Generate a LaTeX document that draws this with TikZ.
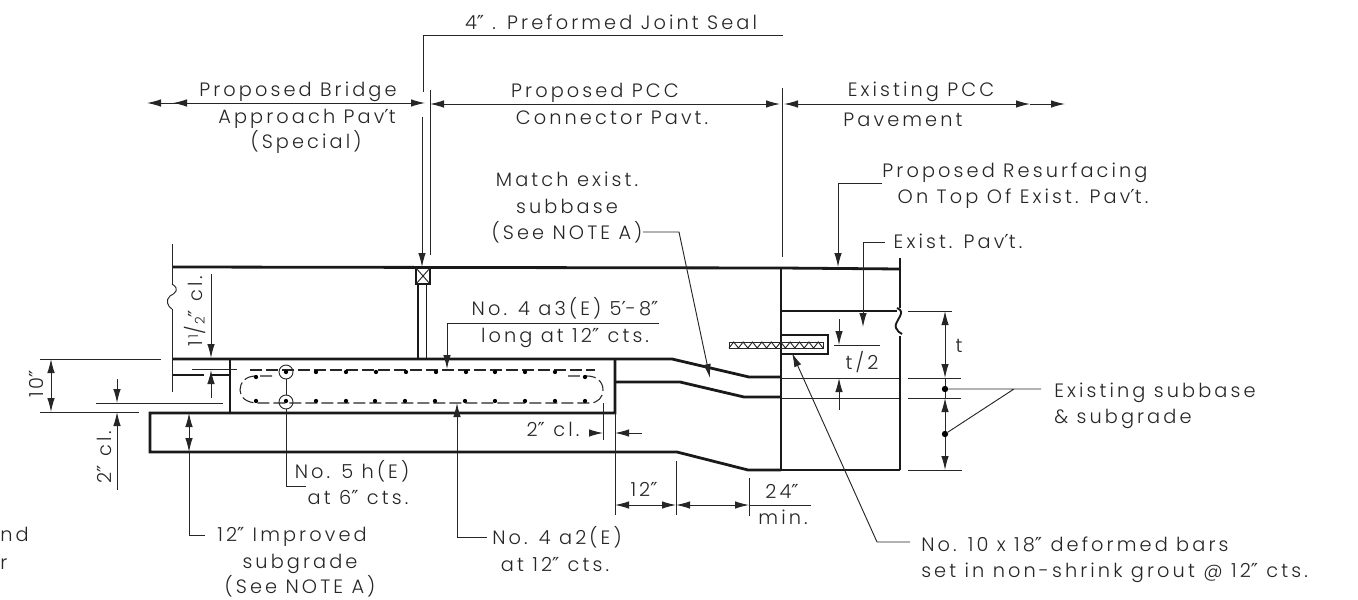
\documentclass[tikz,border=0pt]{standalone}
\usepackage{fontspec}
\setmainfont{Poppins}[UprightFont=* Light,LetterSpace=16]
\newfontfamily\symf{DejaVu Sans}
\usetikzlibrary{arrows.meta}
\newcommand\dq{{\symf ″}}
\newcommand\sq{{\symf ′}}
\tikzset{
  x=0.75pt,y=-0.75pt,
  lbl/.style={inner sep=0pt,anchor=base,font=\fontsize{14.5}{16}\selectfont,text=black!85},
  rlbl/.style={lbl,rotate=90},
  heavy/.style={line width=2.1pt,black!90,line join=miter},
  med/.style={line width=1.4pt,black!90},
  thin/.style={line width=0.7pt,black!85},
  ar/.style={thin,-{Latex[length=10.5pt,width=5.6pt]}},
  ra/.style={thin,{Latex[length=10.5pt,width=5.6pt]}-},
  rar/.style={thin,{Latex[length=10.5pt,width=5.6pt]}-{Latex[length=10.5pt,width=5.6pt]}},
  dotb/.style={circle,fill=black,inner sep=0pt,minimum size=3.2pt},
  jointdot/.style={circle,fill=black,inner sep=0pt,minimum size=4.8pt},
  rebarc/.style={circle,draw=black!85,line width=0.7pt,inner sep=0pt,minimum size=10.5pt},
  dsh/.style={line width=0.8pt,black!85,dash pattern=on 9pt off 3pt},
}
\begin{document}
\begin{tikzpicture}
\useasboundingbox (0,0) rectangle (1358,599);
% Pavement outlines
\draw[heavy] (172,267)--(781,268)--(900,269);
\draw[heavy] (172,359)--(672,359)--(749,377)--(781,377);
\draw[heavy] (615,382)--(680,382)--(744,397)--(781,397);
\draw[heavy] (230,359)--(230,413);
\draw[heavy] (615,359)--(615,413)--(150,413)--(150,452)--(677,452)--(748,470)--(781,470);
\draw[heavy] (781,268)--(781,470);
\draw[heavy] (781,311)--(897,311);
\draw[heavy] (172,375)--(204,375) (212,375)--(229,375);
% Thin existing pavement
\draw[thin] (781,378)--(900,378) (781,398)--(900,398);
\draw[med] (781,470)--(900,470);
\draw[med] (900,258)--(900,308);
\draw[med] (900,336)--(900,470);
\draw[med] (897,308) .. controls (908,312) and (893,322) .. (896,328) .. controls (897,331) and (900,333) .. (902,334);
\draw[thin] (172,244)--(172,284) (172,309)--(172,392);
\draw[thin] (172,284) .. controls (180,289) and (176,293) .. (170,296) .. controls (165,300) and (168,307) .. (172,309);
% Joint seal
\draw[med] (416,268) rectangle (430,284);
\draw[thin] (416,268)--(430,284) (430,268)--(416,284);
\draw[med] (418,284)--(418,359) (426.5,284)--(426.5,359);
% Rebar
\draw[dsh] (250,370)--(595,370);
\draw[dsh] (272,376)--(256,376) .. controls (245,376) and (240,383) .. (240,390) .. controls (240,397) and (246,403) .. (258,403)--(590,403) .. controls (598,403) and (603,397) .. (603,390) .. controls (603,382) and (597,376) .. (587,376)--(568,376);
\foreach \x in {286,316,346,376,406,436,466,495,525,555} \node[dotb] at (\x,372) {};
\foreach \x in {256,585} \node[dotb] at (\x,377) {};
\foreach \x in {256,286,316,346,375,405,435,465,495,525,555,585} \node[dotb] at (\x,401) {};
\node[rebarc] (ctop) at (286,372) {};
\node[rebarc] (cbot) at (286,402) {};
\draw[thin] (ctop)--(cbot);
% Grout and dowel
\draw[heavy] (781,335)--(828,335)--(828,354)--(781,354);
\draw[thin] (729,342) rectangle (823,348);
\draw[thin] (729,348) \foreach \i in {0,...,9} { -- ({729+\i*9.4+4.7},342) -- ({729+\i*9.4+9.4},348) };
% Top note and dimension lines
\coordinate (sealtop) at (422,267);
\draw[thin] (783,35)--(423,35)--(423,92);
\draw[ar] (422,117)--(sealtop);
\draw[thin] (430,90)--(430,255) (782,88)--(782,257);
\draw[rar] (147,103)--(425,103);
\draw[ra] (173,103)--(200,103);
\draw[rar] (430,104)--(780,104);
\draw[rar] (784,104)--(1030,104);
\draw[ar] (1030,104)--(1065,104);
% Leaders
\draw[ar] (882,183)--(838,183)--(838,267);
\draw[ar] (885,242)--(863,242)--(863,327);
\draw[ar] (643,232)--(679,232)--(710,378);
\draw[ar] (659,323)--(447,323)--(447,369);
\draw[ra] (457,403)--(457,537)--(487,537);
\draw[thin] (286,409)--(286,486)--(306,486);
\draw[rar] (189,413)--(189,452);
\draw[thin] (189,452)--(189,535)--(205,535);
\draw[ra] (792,353)--(877,542)--(910,542);
% Left dimensions
\draw[thin] (40,359)--(161,359) (40,412)--(139,412) (96,403)--(223,403) (192,369)--(237,369);
\draw[rar] (51,359)--(51,412);
\draw[ar] (117,379)--(117,403);
\draw[ra] (117,412)--(117,490);
\draw[ar] (211,274)--(211,358);
\draw[ra] (211,370)--(211,398);
% Right dimensions
\draw[thin] (908,311)--(952,311) (908,378)--(961,378) (908,398)--(961,398) (908,470)--(962,470);
\draw[rar] (945,311)--(945,378);
\draw[rar] (945,398)--(945,470);
\draw[thin] (945,378)--(945,398);
\node[jointdot] (sb1) at (945,389) {};
\node[jointdot] (sb2) at (945,434) {};
\coordinate (sbj) at (1014,389);
\draw[thin] (sb1)--(1041,389) (sb2)--(sbj);
\draw[ar] (839,319)--(839,345);
\draw[ra] (839,378)--(839,410);
\draw[thin] (834,345)--(880,345);
% 2 in cl and bottom dimensions
\draw[thin] (603,403)--(603,440) (615,413)--(615,515);
\draw[ar] (590,433)--(603,433);
\draw[ar] (642,433)--(615,433);
\draw[thin] (676,461)--(676,515) (749,478)--(749,516);
\draw[rar] (615,505)--(676,505);
\draw[rar] (676,505)--(749,505);
\draw[thin] (749,505)--(811,505);
% Labels
\node[lbl] (t1) at (611,30) {4\dq\ . Preformed Joint Seal};
\node[lbl] (t2) at (298,97) {Proposed Bridge};
\node[lbl] (t3) at (307,123) {Approach Pav\sq t};
\node[lbl] (t4) at (306,148) {(Special)};
\node[lbl] (t5) at (595,98) {Proposed PCC};
\node[lbl] (t6) at (612,125) {Connector Pavt.};
\node[lbl] (t7) at (921,97) {Existing PCC};
\node[lbl] (t8) at (903,127) {Pavement};
\node[lbl] (t9) at (1015,177) {Proposed Resurfacing};
\node[lbl] (t10) at (1023,203) {On Top Of Exist. Pav\sq t.};
\node[lbl] (t11) at (958,248) {Exist. Pav\sq t.};
\node[lbl] (t12) at (567,186) {Match exist.};
\node[lbl] (t13) at (567,213) {subbase};
\node[lbl] (t14) at (567,239) {(See NOTE A)};
\node[lbl] (t15) at (565,315) {No. 4 a3(E) 5\sq-8\dq};
\node[lbl] (t16) at (565,342) {long at 12\dq\ cts.};
\node[lbl] (t17) at (352,478) {No. 5 h(E)};
\node[lbl] (t18) at (358,504) {at 6\dq\ cts.};
\node[lbl] (t19) at (292,541) {12\dq\ Improved};
\node[lbl] (t20) at (300,568) {subgrade};
\node[lbl] (t21) at (300,593) {(See NOTE A)};
\node[lbl] (t22) at (557,544) {No. 4 a2(E)};
\node[lbl] (t23) at (555,571) {at 12\dq\ cts.};
\node[lbl] (t24) at (644,496) {12\dq};
\node[lbl] (t25) at (782,498) {24\dq};
\node[lbl] (t26) at (783,524) {min.};
\node[lbl,anchor=base west] (t27) at (921,551) {No. 10 x 18\dq\ deformed bars};
\node[lbl,anchor=base west] (t28) at (921,577) {set in non-shrink grout @ 12\dq\ cts.};
\node[lbl,anchor=base west] (t29) at (1054,397) {Existing subbase};
\node[lbl,anchor=base west] (t30) at (1054,423) {\& subgrade};
\node[lbl] (t31) at (959,352) {t};
\node[lbl] (t32) at (862,369) {t/2};
\node[lbl] (t33) at (553,436) {2\dq\ cl.};
\node[rlbl] (t34) at (43,384) {10\dq};
\node[rlbl] (t35) at (111,457) {2\dq\ cl.};
\node[rlbl] (t36) at (202,311) {1\kern1.5pt\raisebox{3pt}{\fontsize{10}{11}\selectfont 1}\kern0.5pt/\kern0.5pt\raisebox{-2pt}{\fontsize{10}{11}\selectfont 2}\dq\ cl.};
\node[lbl,anchor=base west] (t37) at (0,541) {nd};
\node[lbl,anchor=base west] (t38) at (0,569) {r};
\end{tikzpicture}
\end{document}
